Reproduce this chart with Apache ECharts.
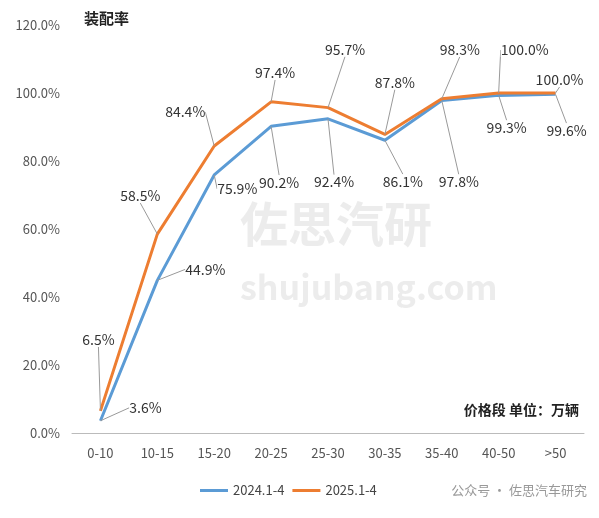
<!DOCTYPE html>
<html>
<head>
<meta charset="utf-8">
<script src="https://cdn.jsdelivr.net/npm/echarts@6/dist/echarts.min.js"></script>
<style>html,body{margin:0;padding:0;background:#fff}#main{width:599px;height:518px}</style>
</head>
<body>
<div id="main"></div>
<script>
const categories = ['0-10', '10-15', '15-20', '20-25', '25-30', '30-35', '35-40', '40-50', '>50'];
const rate2024 = [3.6, 44.9, 75.9, 90.2, 92.4, 86.1, 97.8, 99.3, 99.6];
const rate2025 = [6.5, 58.5, 84.4, 97.4, 95.7, 87.8, 98.3, 100.0, 100.0];
const yTicks = [0, 20, 40, 60, 80, 100, 120];

// label offsets from the point (callouts)
const off2024 = [[45, -13], [48, -11], [23, 14], [8, 56], [6, 63], [18, 41], [17, 81], [8, 32], [11, 36]];
const off2025 = [[-2, -71], [-17, -38], [-29, -34], [4, -29], [17, -58], [10, -52], [18, -49], [26, -43], [4, -13]];

const chart = echarts.init(document.getElementById('main'));
const font = 'Noto Sans CJK SC, sans-serif';

function makeSeries(name, data, color, offs) {
    return {
        name: name,
        type: 'line',
        data: data,
        symbol: 'circle',
        symbolSize: 0.1,
        showSymbol: true,
        lineStyle: { color: color, width: 3 },
        itemStyle: { color: color },
        label: {
            show: true,
            position: 'inside',
            formatter: (p) => p.value.toFixed(1) + '%',
            color: '#333',
            fontSize: 14,
            fontFamily: font,
            backgroundColor: '#fff'
        },
        labelLine: { show: true, lineStyle: { color: '#999', width: 1 } },
        labelLayout: (p) => ({ dx: offs[p.dataIndex][0], dy: offs[p.dataIndex][1] })
    };
}

chart.setOption({
    animation: false,
    textStyle: { fontFamily: font },
    grid: { left: 72, right: 15, top: 25, bottom: 85 },
    graphic: [
        { type: 'text', left: 84, top: 11, style: { text: '装配率', font: 'bold 15px ' + font, fill: '#222' } },
        { type: 'text', right: 20, top: 403, style: { text: '价格段 单位：万辆', font: 'bold 14px ' + font, fill: '#222' } },
        { type: 'text', left: 240, top: 200, z: -1, style: { text: '佐思汽研', font: 'bold 48px ' + font, fill: 'rgba(200,200,200,0.35)' } },
        { type: 'text', left: 240, top: 270, z: -1, style: { text: 'shujubang.com', font: 'bold 34px ' + font, fill: 'rgba(200,200,200,0.35)' } },
        { type: 'text', right: 12, top: 484, style: { text: '公众号 · 佐思汽车研究', font: '13px ' + font, fill: '#999' } }
    ],
    legend: {
        bottom: 16,
        left: 195,
        itemWidth: 28,
        itemHeight: 3,
        icon: 'rect',
        textStyle: { fontSize: 13, color: '#444' },
        data: ['2024.1-4', '2025.1-4']
    },
    xAxis: {
        type: 'category',
        data: categories,
        axisLine: { lineStyle: { color: '#bbb' } },
        axisTick: { show: false },
        axisLabel: { color: '#555', fontSize: 13, margin: 14 }
    },
    yAxis: {
        type: 'value',
        min: yTicks[0],
        max: yTicks[yTicks.length - 1],
        interval: 20,
        axisLine: { show: false },
        splitLine: { show: false },
        axisLabel: { color: '#555', fontSize: 13, margin: 12, formatter: (v) => v.toFixed(1) + '%' }
    },
    series: [
        makeSeries('2024.1-4', rate2024, '#5b9bd5', off2024),
        makeSeries('2025.1-4', rate2025, '#ed7d31', off2025)
    ]
});
</script>
</body>
</html>
